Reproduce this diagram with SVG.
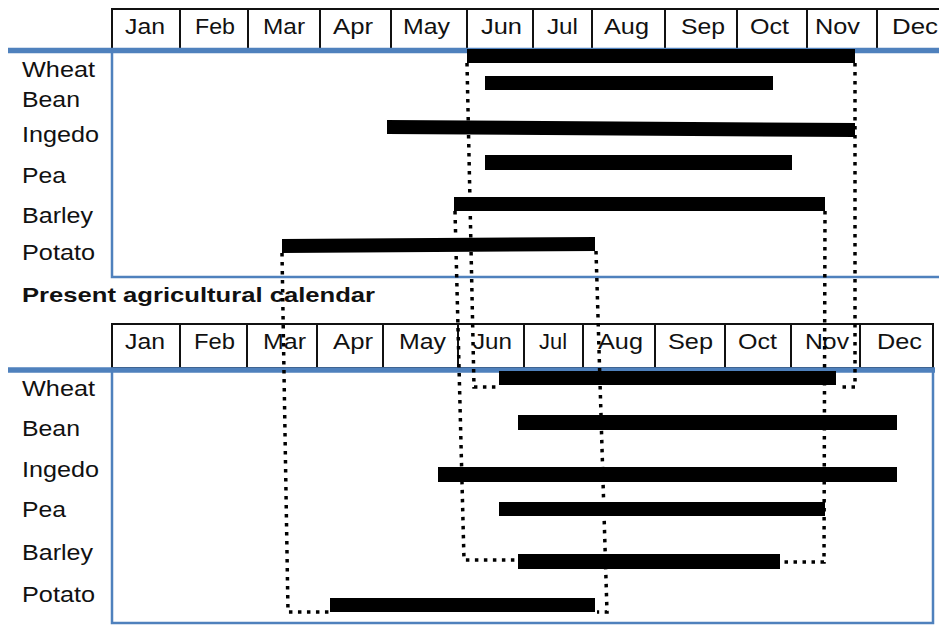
<svg xmlns="http://www.w3.org/2000/svg" width="939" height="625" viewBox="0 0 939 625">
<style>
text{font-family:"Liberation Sans",Arial,sans-serif;fill:#111;}
.m{font-size:22px;}
.l{font-size:22px;}
.t{font-size:21px;font-weight:bold;}
.cell{fill:#fff;stroke:#111;stroke-width:2;}
.bl{stroke:#4f81bd;fill:none;}
.bar{fill:#000;}
.dot{fill:none;stroke:#000;stroke-width:3.5;stroke-dasharray:3.5 5.5;}
</style>
<rect width="939" height="625" fill="#fff"/>
<g id="top-header">
<rect class="cell" x="112" y="9" width="840" height="40"/>
<path d="M180 9V49M248 9V49M320 9V49M391 9V49M467 9V49M533 9V49M592 9V49M665 9V49M737 9V49M807 9V49M877 9V49" stroke="#111" stroke-width="2"/>
<text class="m" x="125" y="34" textLength="40" lengthAdjust="spacingAndGlyphs">Jan</text>
<text class="m" x="195" y="34" textLength="40" lengthAdjust="spacingAndGlyphs">Feb</text>
<text class="m" x="263" y="34" textLength="42" lengthAdjust="spacingAndGlyphs">Mar</text>
<text class="m" x="333" y="34" textLength="40" lengthAdjust="spacingAndGlyphs">Apr</text>
<text class="m" x="403" y="34" textLength="47" lengthAdjust="spacingAndGlyphs">May</text>
<text class="m" x="481" y="34" textLength="41" lengthAdjust="spacingAndGlyphs">Jun</text>
<text class="m" x="547" y="34" textLength="31" lengthAdjust="spacingAndGlyphs">Jul</text>
<text class="m" x="604" y="34" textLength="45" lengthAdjust="spacingAndGlyphs">Aug</text>
<text class="m" x="681" y="34" textLength="44" lengthAdjust="spacingAndGlyphs">Sep</text>
<text class="m" x="750" y="34" textLength="39" lengthAdjust="spacingAndGlyphs">Oct</text>
<text class="m" x="815" y="34" textLength="45" lengthAdjust="spacingAndGlyphs">Nov</text>
<text class="m" x="892" y="34" textLength="46" lengthAdjust="spacingAndGlyphs">Dec</text>
</g>
<g id="top-frame">
<path class="bl" d="M112 50V277H939" stroke-width="2.5"/>
<path class="bl" d="M8 50.5H939" stroke-width="5.5"/>
</g>
<g id="top-labels">
<text class="l" x="22" y="77" textLength="73" lengthAdjust="spacingAndGlyphs">Wheat</text>
<text class="l" x="22" y="107" textLength="58" lengthAdjust="spacingAndGlyphs">Bean</text>
<text class="l" x="22" y="142" textLength="77" lengthAdjust="spacingAndGlyphs">Ingedo</text>
<text class="l" x="22" y="183" textLength="44" lengthAdjust="spacingAndGlyphs">Pea</text>
<text class="l" x="22" y="223" textLength="71" lengthAdjust="spacingAndGlyphs">Barley</text>
<text class="l" x="22" y="260" textLength="73" lengthAdjust="spacingAndGlyphs">Potato</text>
</g>
<text id="title" class="t" x="22" y="302" textLength="353" lengthAdjust="spacingAndGlyphs">Present agricultural calendar</text>
<g id="bottom-header">
<rect class="cell" x="112" y="324" width="821" height="44"/>
<path d="M180 324V368M247 324V368M317 324V368M383 324V368M458 324V368M524 324V368M583 324V368M655 324V368M725 324V368M791 324V368M860 324V368" stroke="#111" stroke-width="2"/>
<text class="m" x="125" y="349" textLength="40" lengthAdjust="spacingAndGlyphs">Jan</text>
<text class="m" x="194" y="349" textLength="41" lengthAdjust="spacingAndGlyphs">Feb</text>
<text class="m" x="263" y="349" textLength="43" lengthAdjust="spacingAndGlyphs">Mar</text>
<text class="m" x="333" y="349" textLength="40" lengthAdjust="spacingAndGlyphs">Apr</text>
<text class="m" x="399" y="349" textLength="47" lengthAdjust="spacingAndGlyphs">May</text>
<text class="m" x="473" y="349" textLength="39" lengthAdjust="spacingAndGlyphs">Jun</text>
<text class="m" x="539" y="349" textLength="28" lengthAdjust="spacingAndGlyphs">Jul</text>
<text class="m" x="598" y="349" textLength="45" lengthAdjust="spacingAndGlyphs">Aug</text>
<text class="m" x="668" y="349" textLength="45" lengthAdjust="spacingAndGlyphs">Sep</text>
<text class="m" x="738" y="349" textLength="39" lengthAdjust="spacingAndGlyphs">Oct</text>
<text class="m" x="805" y="349" textLength="44" lengthAdjust="spacingAndGlyphs">Nov</text>
<text class="m" x="877" y="349" textLength="45" lengthAdjust="spacingAndGlyphs">Dec</text>
</g>
<g id="bottom-frame">
<path class="bl" d="M112 370V623H933V370" stroke-width="2.5"/>
<path class="bl" d="M8 370H935" stroke-width="5.5"/>
</g>
<g id="bottom-labels">
<text class="l" x="22" y="396" textLength="73" lengthAdjust="spacingAndGlyphs">Wheat</text>
<text class="l" x="22" y="436" textLength="58" lengthAdjust="spacingAndGlyphs">Bean</text>
<text class="l" x="22" y="477" textLength="77" lengthAdjust="spacingAndGlyphs">Ingedo</text>
<text class="l" x="22" y="517" textLength="44" lengthAdjust="spacingAndGlyphs">Pea</text>
<text class="l" x="22" y="560" textLength="71" lengthAdjust="spacingAndGlyphs">Barley</text>
<text class="l" x="22" y="602" textLength="73" lengthAdjust="spacingAndGlyphs">Potato</text>
</g>
<g id="top-bars">
<rect id="t-wheat" class="bar" x="467" y="49" width="388" height="14"/>
<rect id="t-bean" class="bar" x="485" y="76" width="288" height="14"/>
<polygon id="t-ingedo" class="bar" points="387,120 855,123 855,137 387,134"/>
<rect id="t-pea" class="bar" x="485" y="155" width="307" height="15"/>
<rect id="t-barley" class="bar" x="454" y="197" width="371" height="14"/>
<polygon id="t-potato" class="bar" points="282,239 595,237 595,251 282,253"/>
</g>
<g id="bottom-bars">
<rect id="b-wheat" class="bar" x="499" y="371" width="337" height="14"/>
<rect id="b-bean" class="bar" x="518" y="415" width="379" height="15"/>
<rect id="b-ingedo" class="bar" x="438" y="467" width="459" height="15"/>
<rect id="b-pea" class="bar" x="499" y="502" width="326" height="14"/>
<rect id="b-barley" class="bar" x="518" y="554" width="262" height="15"/>
<rect id="b-potato" class="bar" x="330" y="598" width="265" height="14"/>
</g>
<g id="connectors">
<polyline class="dot" points="467,63 474,387 497,387"/>
<polyline class="dot" points="855,63 855,387 840,387"/>
<polyline class="dot" points="455,211 464,560 517,560"/>
<polyline class="dot" points="825,211 824,562 782,562"/>
<polyline class="dot" points="282,253 288,612 330,612"/>
<polyline class="dot" points="596,251 607,612 597,612"/>
</g>
</svg>
